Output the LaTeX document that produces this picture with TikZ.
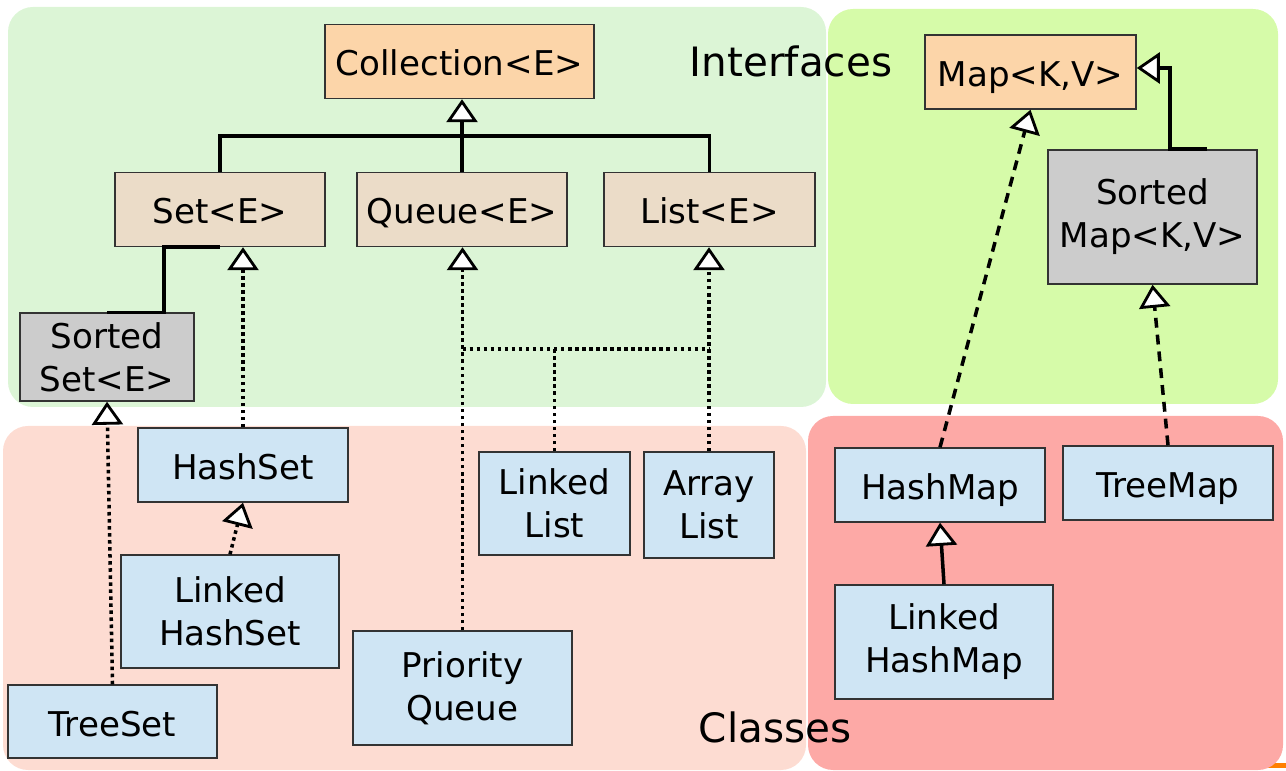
\documentclass[tikz,border=0pt]{standalone}
\usepackage{fontspec}
\setmainfont{DejaVu Sans}
\usetikzlibrary{arrows.meta}

\definecolor{ifacebg}{RGB}{220,245,214}
\definecolor{mapifacebg}{RGB}{214,251,169}
\definecolor{classbg}{RGB}{253,220,210}
\definecolor{mapclassbg}{RGB}{253,169,166}
\definecolor{rootfill}{RGB}{252,213,169}
\definecolor{subfill}{RGB}{235,220,200}
\definecolor{sortedfill}{RGB}{204,204,204}
\definecolor{implfill}{RGB}{207,229,244}
\definecolor{slideorange}{RGB}{255,128,0}

\tikzset{
  box/.style={draw=black!80, line width=0.4pt, inner sep=0pt, align=center,
    minimum width=2.1cm, minimum height=0.74cm},
  oneline/.style={text height=0.38cm, text depth=0.09cm},
  rootbox/.style={box, oneline, fill=rootfill},
  subbox/.style={box, oneline, fill=subfill},
  sortedbox/.style={box, fill=sortedfill},
  implbox/.style={box, fill=implfill},
  region/.style={rounded corners=0.25cm},
  link/.style={line width=1pt},
  extends/.style={link, -{Triangle[fill=white, width=0.31cm, length=0.23cm, line width=0.8pt]}},
  implements/.style={extends, densely dotted},
  mapimpl/.style={extends, dash pattern=on 2.8pt off 2pt},
  biglabel/.style={font=\fontsize{11.5}{14}\selectfont}
}

\begin{document}
\begin{tikzpicture}[x=0.01cm, y=-0.01cm, font=\fontsize{9.7}{12.2}\selectfont]
\useasboundingbox (0,0) rectangle (1286,771);

% Background areas
\fill[ifacebg, region] (8,7) rectangle (826,407);
\fill[mapifacebg, region] (828,9) rectangle (1278,404);
\fill[classbg, region] (3,426) rectangle (806,770);
\fill[slideorange] (1263,763) rectangle (1286,768);
\fill[mapclassbg, region] (808,416) rectangle (1283,770);

\node[biglabel] (ifacelbl) at (791,61) {Interfaces};
\node[biglabel] (classlbl) at (775,727) {Classes};

% Collection interfaces
\node[rootbox, minimum width=2.69cm] (coll) at (459.5,61.5) {Collection<E>};
\node[subbox] (set) at (220,209.5) {Set<E>};
\node[subbox] (queue) at (462,209.5) {Queue<E>};
\node[subbox, minimum width=2.11cm] (list) at (709.5,209.5) {List<E>};
\node[sortedbox, minimum width=1.74cm, minimum height=0.88cm] (sset) at (107,357) {Sorted\\Set<E>};

% Map interfaces
\node[rootbox, minimum width=2.11cm] (map) at (1030.5,72) {Map<K,V>};
\node[sortedbox, minimum width=2.09cm, minimum height=1.34cm] (smap) at (1152.5,217) {Sorted\\Map<K,V>};

% Collection classes
\node[implbox, oneline] (hset) at (243,465) {HashSet};
\node[implbox, minimum width=2.18cm, minimum height=1.13cm] (lhset) at (230,611.5) {Linked\\HashSet};
\node[implbox, oneline, minimum width=2.09cm, minimum height=0.73cm] (tset) at (112.5,721.5) {TreeSet};
\node[implbox, minimum width=2.19cm, minimum height=1.14cm] (pqueue) at (462.5,688) {Priority\\Queue};
\node[implbox, minimum width=1.51cm, minimum height=1.03cm] (llist) at (554.5,503.5) {Linked\\List};
\node[implbox, minimum width=1.30cm, minimum height=1.06cm] (alist) at (709,505) {Array\\List};

% Map classes
\node[implbox, oneline] (hmap) at (940,485) {HashMap};
\node[implbox, oneline] (tmap) at (1168,483) {TreeMap};
\node[implbox, minimum width=2.18cm, minimum height=1.14cm] (lhmap) at (944,642) {Linked\\HashMap};

% Sub-interfaces of Collection
\coordinate (cbar) at (0,136);
\draw[link] (set.north) |- (cbar -| list.north) -- (list.north);
\draw[extends] (queue.north) -- (queue.north |- coll.south);
\draw[link] (sset.north) -- ++(57,0) |- (set.south);

% Collection implementations
\coordinate (lbar) at (0,349);
\draw[implements] (hset.north) -- (hset.north |- set.south);
\draw[implements] (tset.north) -- (sset.south);
\draw[implements] (lhset.north) -- (hset.south);
\draw[implements] (pqueue.north) -- (pqueue.north |- queue.south);
\draw[implements] (alist.north) -- (alist.north |- list.south);
\draw[link, densely dotted] (pqueue.north |- lbar) -- (alist.north |- lbar);
\draw[link, densely dotted] (llist.north) -- (llist.north |- lbar);

% Map hierarchy
\draw[extends] ([xshift=0.545cm]smap.north) -- ++(-37,0) |- ([yshift=0.04cm]map.east);
\draw[mapimpl] (hmap.north) -- (map.south);
\draw[mapimpl] (tmap.north) -- (smap.south);
\draw[extends] (lhmap.north) -- (hmap.south);
\end{tikzpicture}
\end{document}
